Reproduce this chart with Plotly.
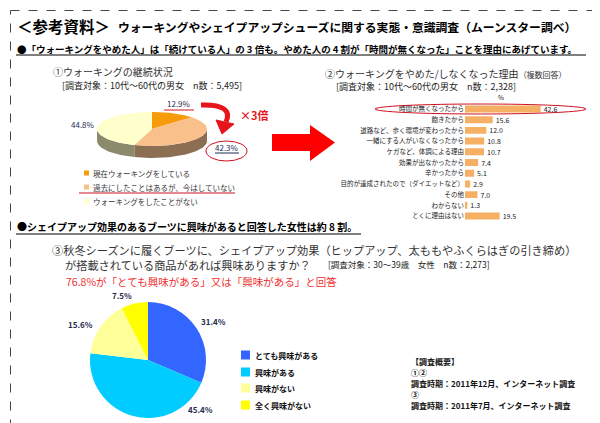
import math
import plotly.graph_objects as go

# ---------------- data ----------------
pie1_labels = ["現在ウォーキングをしている", "過去にしたことはあるが、今はしていない", "ウォーキングをしたことがない"]
pie1_values = [12.9, 42.3, 44.8]
pie1_colors = ["#F59B0C", "#F9C08C", "#FFFFCC"]
pie1_side_colors = ["#9A6A20", "#8C6E52", "#8C8A6C"]

bar_categories = ["時間が無くなったから", "飽きたから", "道路など、歩く環境が変わったから",
                  "一緒にする人がいなくなったから", "ケガなど、体調による理由", "効果が出なかったから",
                  "辛かったから", "目的が達成されたので（ダイエットなど）", "その他", "わからない",
                  "とくに理由はない"]
bar_values = [42.6, 15.6, 12.0, 10.8, 10.7, 7.4, 5.1, 2.9, 7.0, 1.3, 19.5]

pie3_labels = ["とても興味がある", "興味がある", "興味がない", "全く興味がない"]
pie3_values = [31.4, 45.4, 15.6, 7.5]
pie3_colors = ["#3366FF", "#00CCFF", "#FFFF99", "#FFFF00"]

FONT = "Noto Sans CJK JP"
W, H = 600, 423

fig = go.Figure()

# ---------------- pie 1 (flattened 3D pie drawn on the page axis) ----------------
cx, cy, rx, ry, depth = 144, 121, 55, 17, 12
theta0 = 0.0


def ept(t, off=0.0):
    r = math.radians(t)
    return cx + rx * math.sin(r), cy - ry * math.cos(r) + off


def arc(a, b, off=0.0, step=2.0):
    n = max(2, int(abs(b - a) / step) + 1)
    return [ept(a + (b - a) * i / (n - 1), off) for i in range(n)]


total1 = sum(pie1_values)
bounds = []
acc = theta0
for v in pie1_values:
    s = acc
    e = acc + 360.0 * v / total1
    bounds.append((s, e))
    acc = e

# sides (front half: 90..270 degrees)
for (s, e), col in zip(bounds, pie1_side_colors):
    for lo, hi in [(90, 270), (450, 630)]:
        a, b = max(s, lo), min(e, hi)
        if b > a:
            top = arc(a, b)
            bot = arc(b, a, off=depth)
            pts = top + bot
            fig.add_trace(go.Scatter(x=[p[0] for p in pts] + [pts[0][0]],
                                     y=[p[1] for p in pts] + [pts[0][1]],
                                     mode="lines", fill="toself", fillcolor=col,
                                     line=dict(width=0, color=col), hoverinfo="skip",
                                     showlegend=False, xaxis="x", yaxis="y"))
# top faces
for (s, e), col in zip(bounds, pie1_colors):
    pts = [(cx, cy)] + arc(s, e) + [(cx, cy)]
    fig.add_trace(go.Scatter(x=[p[0] for p in pts], y=[p[1] for p in pts],
                             mode="lines", fill="toself", fillcolor=col,
                             line=dict(width=0, color=col), hoverinfo="skip",
                             showlegend=False, xaxis="x", yaxis="y"))

# ---------------- bar chart ----------------
bar_top, bar_bottom = 95.6, 213.4
px_per_unit = 1.777
x_left = 457
fig.add_trace(go.Bar(
    x=bar_values, y=bar_categories, orientation="h",
    marker=dict(color="#F5B064", line=dict(width=0)),
    text=[f"{v:.1f}" for v in bar_values], textposition="outside",
    constraintext="none",
    textfont=dict(size=7, color="#222", family=FONT),
    cliponaxis=False, hoverinfo="skip", showlegend=False,
    xaxis="x2", yaxis="y2"))

# ---------------- pie 3 ----------------
pcx, pcy, pr = 140, 352, 58
fig.add_trace(go.Pie(
    values=pie3_values, labels=pie3_labels, sort=False, direction="clockwise",
    rotation=0, marker=dict(colors=pie3_colors, line=dict(width=0)),
    textinfo="none", hoverinfo="skip", showlegend=False,
    domain=dict(x=[(pcx - pr) / W, (pcx + pr) / W],
                y=[1 - (pcy + pr) / H, 1 - (pcy - pr) / H])))

# ---------------- shapes ----------------
shapes = []
# dashed frame
shapes.append(dict(type="rect", x0=2.5, y0=2.5, x1=597.5, y1=417.5, xref="x", yref="y",
                   line=dict(color="#444", width=1, dash="dash")))
# underline header lines
shapes.append(dict(type="line", x0=8, x1=578, y0=47, y1=47, xref="x", yref="y",
                   line=dict(color="#000", width=1)))
shapes.append(dict(type="line", x0=8, x1=353, y0=226, y1=226, xref="x", yref="y",
                   line=dict(color="#000", width=1)))
# pie1 label decorations
shapes.append(dict(type="line", x0=156, x1=186, y0=102, y1=102, xref="x", yref="y",
                   line=dict(color="#D01020", width=1)))
shapes.append(dict(type="line", x0=207, x1=231, y0=145, y1=145, xref="x", yref="y",
                   line=dict(color="#1F2D4F", width=1)))
shapes.append(dict(type="circle", x0=198, x1=239, y0=133, y1=153, xref="x", yref="y",
                   line=dict(color="#D01020", width=1)))
shapes.append(dict(type="line", x0=71, x1=227, y0=185, y1=185, xref="x", yref="y",
                   line=dict(color="#D01020", width=1)))
# curved arrow
shapes.append(dict(type="path", path="M 193 97 Q 226 96 218 114", xref="x", yref="y",
                   line=dict(color="#E8141C", width=5)))
shapes.append(dict(type="path", path="M 208 112 L 226 116 L 214 126 Z", xref="x", yref="y",
                   fillcolor="#E8141C", line=dict(color="#E8141C", width=1)))
# big arrow
shapes.append(dict(type="path",
                   path="M 264 126 L 302 126 L 302 117 L 327 134.5 L 302 153 L 302 143 L 264 143 Z",
                   xref="x", yref="y", fillcolor="#FF0000", line=dict(color="#FF0000", width=0)))
# ellipse around first bar
shapes.append(dict(type="circle", x0=367, x1=578, y0=96, y1=106, xref="x", yref="y",
                   line=dict(color="#D01020", width=1)))
# pie1 legend squares
for i, col in enumerate(pie1_colors):
    yy = 165 + i * 14
    shapes.append(dict(type="rect", x0=76, x1=81, y0=yy - 2.5, y1=yy + 2.5, xref="x", yref="y",
                       fillcolor=col, line=dict(width=0)))
# pie3 legend squares
leg3_y = [347, 364, 380, 397]
for yy, col in zip(leg3_y, pie3_colors):
    shapes.append(dict(type="rect", x0=233, x1=242, y0=yy - 4.5, y1=yy + 4.5, xref="x", yref="y",
                       fillcolor=col, line=dict(width=0)))

# ---------------- annotations ----------------
ann = []


def txt(x, y, s, size, color="#000", bold=False, xanchor="left", family=FONT):
    ann.append(dict(x=x, y=y, xref="x", yref="y", text=s, showarrow=False,
                    xanchor=xanchor, yanchor="middle",
                    font=dict(size=size, color=color, family=family,
                              weight="bold" if bold else "normal")))


txt(7, 18, "＜参考資料＞", 15.5, bold=True)
txt(108, 18, "ウォーキングやシェイプアップシューズに関する実態・意識調査（ムーンスター調べ）", 11.8, bold=True)
txt(7, 41, "●「ウォーキングをやめた人」は「続けている人」の 3 倍も。やめた人の 4 割が「時間が無くなった」ことを理由にあげています。",
    9.5, bold=True)

txt(43, 63, "①ウォーキングの継続状況", 10, color="#333")
txt(52, 77, "[調査対象：10代～60代の男女　n数：5,495]", 9, color="#222")
txt(315, 65, "②ウォーキングをやめた/しなくなった理由<span style='font-size:8px'>（複数回答）</span>", 10, color="#333")
txt(326, 78, "[調査対象：10代～60代の男女　n数：2,328]", 9, color="#222")
txt(493, 89, "%", 6.5, color="#222", xanchor="center")

# pie1 labels
pie1_label_pos = [(171, 95), (219, 139.5), (75, 116)]
for (lx, ly), v in zip(pie1_label_pos, pie1_values):
    txt(lx, ly, f"{v:.1f}%", 8, color="#1F2D4F", xanchor="center")
txt(230, 107, "×3倍", 11, color="#E8141C", bold=True)

for i, lab in enumerate(pie1_labels):
    txt(83, 165 + i * 14, lab, 7.5, color="#333")

txt(7, 218, "●シェイプアップ効果のあるブーツに興味があると回答した女性は約 8 割。", 10, bold=True)
txt(42, 242, "③秋冬シーズンに履くブーツに、シェイプアップ効果（ヒップアップ、太ももやふくらはぎの引き締め）", 11.2, color="#333")
txt(55, 257, "が搭載されている商品があれば興味ありますか？", 11.2, color="#333")
txt(318, 256, "[調査対象：30～39歳　女性　n数：2,273]", 8.5, color="#222")
txt(56, 273, "76.8%が「とても興味がある」又は「興味がある」と回答", 10.5, color="#F03030")

pie3_label_pos = [(205, 313), (192, 401), (72, 316), (114, 287)]
for (lx, ly), v in zip(pie3_label_pos, pie3_values):
    txt(lx, ly, f"{v:.1f}%", 8, color="#1F2D4F", bold=True, xanchor="center")
for yy, lab in zip(leg3_y, pie3_labels):
    txt(245, yy, lab, 8, color="#111", bold=True)

notes = ["【調査概要】", "①②", "調査時期：2011年12月、インターネット調査", "③", "調査時期：2011年7月、インターネット調査"]
for i, s in enumerate(notes):
    txt(401, 353 + i * 11, s, 8, color="#111", bold=True)

# ---------------- layout ----------------
fig.update_layout(
    width=W, height=H, margin=dict(l=0, r=0, t=0, b=0),
    paper_bgcolor="white", plot_bgcolor="rgba(0,0,0,0)",
    font=dict(family=FONT),
    xaxis=dict(range=[0, W], domain=[0, 1], visible=False, fixedrange=True),
    yaxis=dict(range=[H, 0], domain=[0, 1], visible=False, fixedrange=True),
    xaxis2=dict(domain=[x_left / W, (x_left + 60 * px_per_unit) / W], range=[0, 60],
                anchor="y2", visible=False, fixedrange=True),
    yaxis2=dict(domain=[1 - bar_bottom / H, 1 - bar_top / H], anchor="x2",
                autorange="reversed", showgrid=False, showline=False, zeroline=False,
                ticks="", tickfont=dict(size=6.5, color="#222", family=FONT), fixedrange=True),
    bargap=0.35,
    shapes=shapes, annotations=ann,
)

fig.write_html("out.html")
